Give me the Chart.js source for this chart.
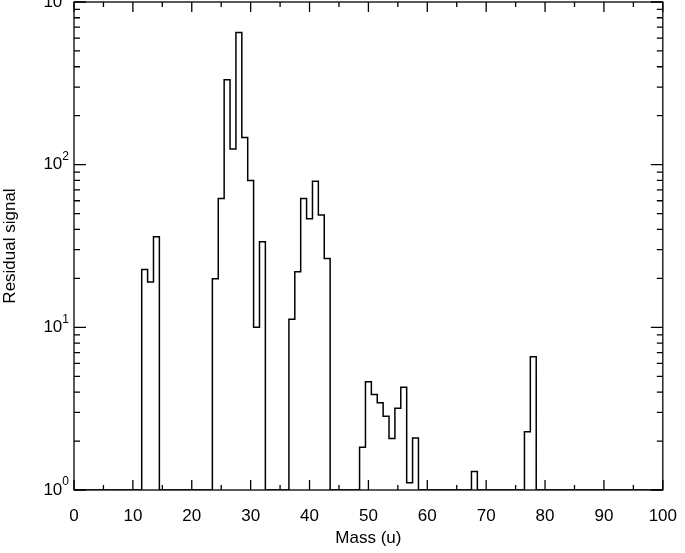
<!DOCTYPE html>
<html>
<head>
<meta charset="utf-8">
<script src="https://cdn.jsdelivr.net/npm/chart.js@4/dist/chart.umd.min.js"></script>
<style>
  html, body { margin: 0; padding: 0; background: #fff; }
  #wrap { width: 685px; height: 553px; }
</style>
</head>
<body>
<div id="wrap"><canvas id="grafico"></canvas></div>
<script>
// Massas com sinal residual (u) e valores
const massas = [12, 13, 14, 24, 25, 26, 27, 28, 29, 30, 31, 32,
                37, 38, 39, 40, 41, 42, 43,
                49, 50, 51, 52, 53, 54, 55, 56, 57, 58, 68, 77, 78];
const sinal = [22.7, 19, 36, 19.9, 62, 333, 125, 650, 147, 80, 10, 33.6,
               11.2, 22, 62, 46.5, 79, 49, 26.5,
               1.83, 4.63, 3.87, 3.44, 2.84, 2.07, 3.18, 4.28, 1.11, 2.09, 1.30, 2.28, 6.6];
const xTicks = [0, 10, 20, 30, 40, 50, 60, 70, 80, 90, 100];
const yTicks = [1, 10, 100, 1000];
const yMin = 1, yMax = 1000;

// histograma: bins de largura 1 centrados nas massas, base = yMin
const pontos = [];
for (let m = 0; m <= 100; m++) {
    const i = massas.indexOf(m);
    pontos.push({ x: m - 0.5, y: i >= 0 ? sinal[i] : yMin });
}
pontos.push({ x: 100.5, y: yMin });

const familia = 'Liberation Sans, Arial, Helvetica, sans-serif';
const fonte = { family: familia, size: 17 };

// ticks para dentro + moldura + rótulos 10^n
const ticksDentro = {
    id: 'ticksDentro',
    afterDraw(chart) {
        const { ctx, chartArea: a, scales } = chart;
        ctx.save();
        ctx.strokeStyle = '#000';
        ctx.lineWidth = 1.3;
        ctx.strokeRect(a.left, a.top, a.right - a.left, a.bottom - a.top);
        ctx.beginPath();
        for (let v = 0; v <= 100; v += 5) {
            const x = scales.x.getPixelForValue(v);
            const len = v % 10 === 0 ? 10 : 5;
            ctx.moveTo(x, a.bottom); ctx.lineTo(x, a.bottom - len);
            ctx.moveTo(x, a.top); ctx.lineTo(x, a.top + len);
        }
        for (let d = 1; d <= yMax; d *= 10) {
            for (let k = 1; k <= 9; k++) {
                const v = d * k;
                if (v > yMax) break;
                const y = scales.y.getPixelForValue(v);
                const len = k === 1 ? 12 : 6;
                ctx.moveTo(a.left, y); ctx.lineTo(a.left + len, y);
                ctx.moveTo(a.right, y); ctx.lineTo(a.right - len, y);
            }
        }
        ctx.stroke();

        ctx.fillStyle = '#000';
        ctx.textBaseline = 'middle';
        yTicks.forEach(v => {
            const y = scales.y.getPixelForValue(v);
            const exp = String(Math.round(Math.log10(v)));
            ctx.font = '12px ' + familia;
            const we = ctx.measureText(exp).width;
            ctx.textAlign = 'right';
            ctx.fillText(exp, a.left - 5, y - 8);
            ctx.font = '17px ' + familia;
            ctx.fillText('10', a.left - 5 - we, y);
        });
        ctx.restore();
    }
};

new Chart(document.querySelector('#grafico'), {
    type: 'line',
    data: {
        datasets: [{
            data: pontos,
            stepped: 'before',
            borderColor: '#000',
            borderWidth: 1.5,
            pointRadius: 0,
            fill: false
        }]
    },
    options: {
        responsive: true,
        maintainAspectRatio: false,
        animation: false,
        layout: { padding: { top: 2, right: -7, left: 0, bottom: 0 } },
        plugins: { legend: { display: false }, tooltip: { enabled: false } },
        scales: {
            x: {
                type: 'linear',
                min: 0, max: 100,
                afterBuildTicks: s => { s.ticks = xTicks.map(v => ({ value: v })); },
                afterFit: s => { s.height = 63; },
                grid: { display: false },
                border: { display: false },
                ticks: { color: '#000', font: fonte, padding: 8, maxRotation: 0 },
                title: { display: true, text: 'Mass (u)', color: '#000', font: fonte, padding: { top: 10 } }
            },
            y: {
                type: 'logarithmic',
                min: yMin, max: yMax,
                afterBuildTicks: s => { s.ticks = yTicks.map(v => ({ value: v })); },
                afterFit: s => { s.width = 74; },
                grid: { display: false },
                border: { display: false },
                ticks: { display: false },
                title: { display: true, text: 'Residual signal', color: '#000', font: fonte, padding: { top: 0, bottom: 0 } }
            }
        }
    },
    plugins: [ticksDentro]
});
</script>
</body>
</html>
